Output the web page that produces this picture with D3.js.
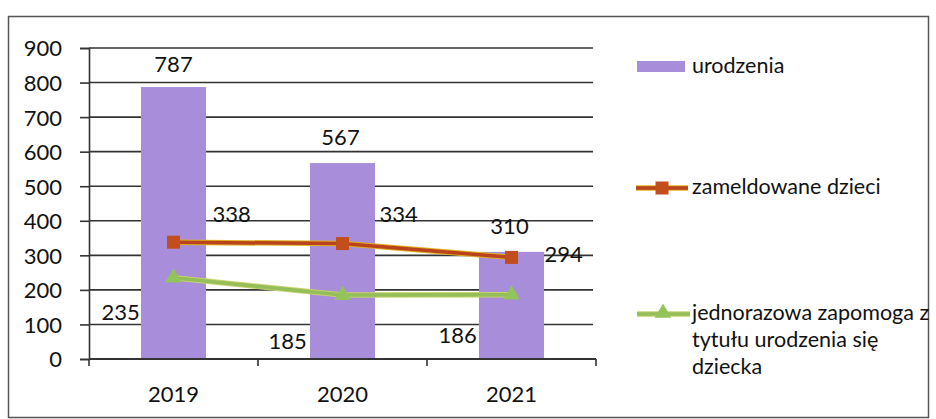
<!DOCTYPE html>
<html><head><meta charset="utf-8">
<script src="https://cdn.jsdelivr.net/npm/d3@7"></script>
<style>html,body{margin:0;padding:0;background:#fff;}svg{display:block;}</style>
</head><body>
<svg id="c" width="936" height="419"></svg>
<script>
const categories = ["2019", "2020", "2021"];
const urodzenia = [787, 567, 310];
const zameldowane = [338, 334, 294];
const zapomoga = [235, 185, 186];
const yTicks = [0, 100, 200, 300, 400, 500, 600, 700, 800, 900];
const seriesNames = ["urodzenia", "zameldowane dzieci", ["jednorazowa zapomoga z", "tytułu urodzenia się", "dziecka"]];

// label offsets (layout only), relative to the mark's point
const barLabelOff = [[0, -15], [-2, -18], [-2, -18]];
const zamLabelOff = [[39, -20], [37, -22], [33, 5]];
const zapLabelOff = [[-72, 42], [-74, 54], [-73, 48]];

const svg = d3.select("#c");
const font = "Lato, 'Open Sans', sans-serif";
const fs = 22;

// frame
svg.append("rect").attr("x", 8.5).attr("y", 16.5).attr("width", 920).attr("height", 401)
  .attr("fill", "none").attr("stroke", "#555").attr("stroke-width", 1.5);

const x = d3.scaleBand().domain(categories).range([89, 596]).paddingInner(0.615).paddingOuter(0.3075);
const y = d3.scaleLinear().domain([0, 900]).range([359, 48]);

// gridlines
svg.append("g").selectAll("line").data(yTicks.filter(d => d > 0)).join("line")
  .attr("x1", 89).attr("x2", 593).attr("y1", d => y(d)).attr("y2", d => y(d))
  .attr("stroke", "#333").attr("stroke-width", 1.6);

// y axis
const yAxis = d3.axisLeft(y).tickValues(yTicks).tickSize(9).tickPadding(18);
const gy = svg.append("g").attr("transform", "translate(89,0)").call(yAxis);
gy.select(".domain").attr("stroke", "#333").attr("stroke-width", 1.6);
gy.selectAll(".tick line").attr("stroke", "#333").attr("stroke-width", 1.6);
gy.selectAll("text").attr("font-family", font).attr("font-size", fs).attr("fill", "#111").attr("dy", "0.36em");

// bars
svg.append("g").selectAll("rect").data(urodzenia).join("rect")
  .attr("x", (d, i) => x(categories[i])).attr("width", x.bandwidth())
  .attr("y", d => y(d)).attr("height", d => y(0) - y(d))
  .attr("fill", "#A78DDA");

// x axis
const gx = svg.append("g").attr("transform", "translate(0,359)");
gx.append("line").attr("x1", 89).attr("x2", 596).attr("stroke", "#333").attr("stroke-width", 1.8);
const bounds = [0, 1, 2, 3].map(i => x.range()[0] + i * x.step());
gx.selectAll("line.t").data(bounds).join("line").attr("class", "t")
  .attr("x1", d => d).attr("x2", d => d).attr("y1", 0).attr("y2", 7)
  .attr("stroke", "#333").attr("stroke-width", 1.6);
gx.selectAll("text").data(categories).join("text")
  .attr("x", d => x(d) + x.bandwidth() / 2).attr("y", 43)
  .attr("text-anchor", "middle").attr("font-family", font).attr("font-size", fs).attr("fill", "#111")
  .text(d => d);

const cx = (i) => x(categories[i]) + x.bandwidth() / 2;
const line = d3.line().x((d, i) => cx(i)).y(d => y(d));

// zameldowane line
svg.append("path").datum(zameldowane).attr("d", line).attr("fill", "none")
  .attr("stroke", "#E0B020").attr("stroke-width", 5.5).attr("stroke-linejoin", "round");
svg.append("path").datum(zameldowane).attr("d", line).attr("fill", "none")
  .attr("stroke", "#B8431C").attr("stroke-width", 3.5).attr("stroke-linejoin", "round");
svg.append("g").selectAll("rect").data(zameldowane).join("rect")
  .attr("x", (d, i) => cx(i) - 6.5).attr("y", d => y(d) - 6.5).attr("width", 13).attr("height", 13)
  .attr("fill", "#C24E1E");

// zapomoga line
svg.append("path").datum(zapomoga).attr("d", line).attr("fill", "none")
  .attr("stroke", "#C8D070").attr("stroke-width", 5.5).attr("stroke-linejoin", "round");
svg.append("path").datum(zapomoga).attr("d", line).attr("fill", "none")
  .attr("stroke", "#94BE58").attr("stroke-width", 3.5).attr("stroke-linejoin", "round");
const tri = d3.symbol().type(d3.symbolTriangle).size(120);
svg.append("g").selectAll("path").data(zapomoga).join("path")
  .attr("d", tri).attr("transform", (d, i) => `translate(${cx(i)},${y(d)})`)
  .attr("fill", "#92C45A");

// data labels
const lbl = svg.append("g").attr("font-family", font).attr("font-size", fs).attr("fill", "#111");
lbl.selectAll("text.b").data(urodzenia).join("text").attr("class", "b")
  .attr("x", (d, i) => cx(i) + barLabelOff[i][0]).attr("y", (d, i) => y(d) + barLabelOff[i][1])
  .attr("text-anchor", "middle").text(d => d);
lbl.selectAll("text.z").data(zameldowane).join("text").attr("class", "z")
  .attr("x", (d, i) => cx(i) + zamLabelOff[i][0]).attr("y", (d, i) => y(d) + zamLabelOff[i][1])
  .text(d => d);
lbl.selectAll("text.p").data(zapomoga).join("text").attr("class", "p")
  .attr("x", (d, i) => cx(i) + zapLabelOff[i][0]).attr("y", (d, i) => y(d) + zapLabelOff[i][1])
  .text(d => d);

// legend
const leg = svg.append("g").attr("font-family", font).attr("font-size", 21.5).attr("fill", "#111");
leg.append("rect").attr("x", 637).attr("y", 61).attr("width", 48).attr("height", 11).attr("fill", "#A78DDA");
leg.append("text").attr("x", 692).attr("y", 73).text(seriesNames[0]);

leg.append("line").attr("x1", 636).attr("x2", 688).attr("y1", 188).attr("y2", 188)
  .attr("stroke", "#E0B020").attr("stroke-width", 5.5);
leg.append("line").attr("x1", 636).attr("x2", 688).attr("y1", 188).attr("y2", 188)
  .attr("stroke", "#B8431C").attr("stroke-width", 3.5);
leg.append("rect").attr("x", 655.5).attr("y", 181.5).attr("width", 13).attr("height", 13).attr("fill", "#C24E1E");
leg.append("text").attr("x", 692).attr("y", 194).text(seriesNames[1]);

leg.append("line").attr("x1", 637).attr("x2", 690).attr("y1", 314).attr("y2", 314)
  .attr("stroke", "#C8D070").attr("stroke-width", 5.5);
leg.append("line").attr("x1", 637).attr("x2", 690).attr("y1", 314).attr("y2", 314)
  .attr("stroke", "#94BE58").attr("stroke-width", 3.5);
leg.append("path").attr("d", tri).attr("transform", "translate(663,313)").attr("fill", "#92C45A");
const t3 = leg.append("text").attr("x", 692).attr("y", 320);
seriesNames[2].forEach((s, i) => t3.append("tspan").attr("x", 692).attr("dy", i ? 27 : 0).text(s));
</script>
</body></html>
